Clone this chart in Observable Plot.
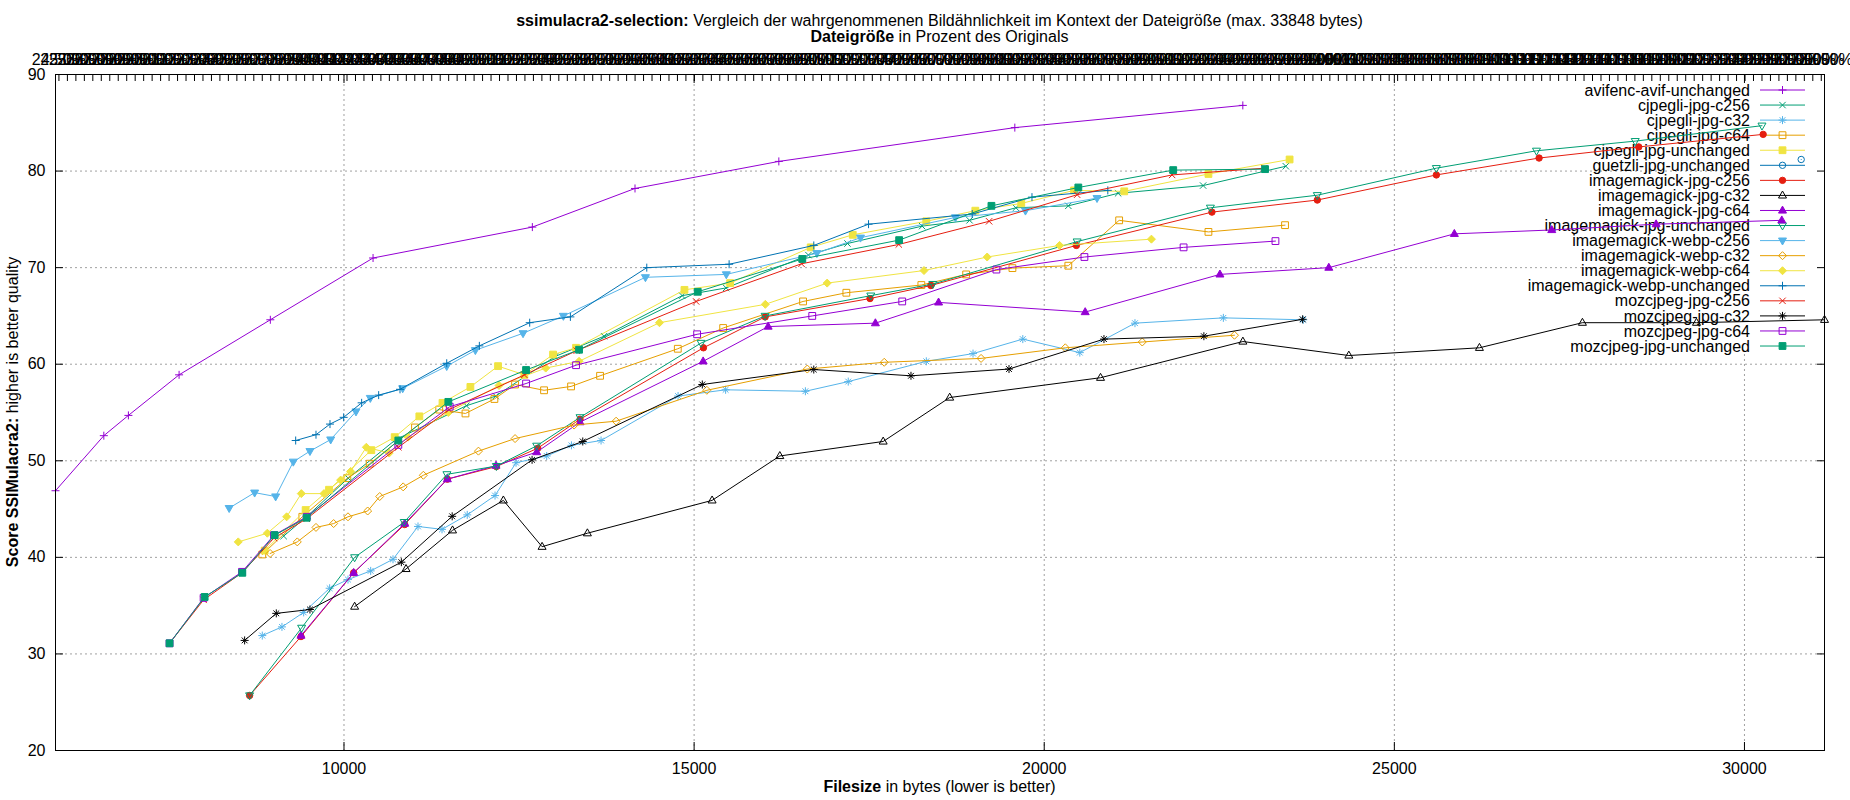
<!DOCTYPE html>
<html>
<head>
<meta charset="utf-8">
<script src="https://cdn.jsdelivr.net/npm/d3@7"></script>
<script src="https://cdn.jsdelivr.net/npm/@observablehq/plot@0.6"></script>
<style>
  body { margin: 0; background: #fff; }
  svg { font-family: "Liberation Sans", Arial, sans-serif; }
</style>
</head>
<body>
<div id="chart"></div>
<script>
// ---------- texts ----------
const titleBold = "ssimulacra2-selection:";
const titleRest = " Vergleich der wahrgenommenen Bildähnlichkeit im Kontext der Dateigröße (max. 33848 bytes)";
const subtitleBold = "Dateigröße";
const subtitleRest = " in Prozent des Originals";
const xLabelBold = "Filesize";
const xLabelRest = " in bytes (lower is better)";
const yLabelBold = "Score SSIMulacra2:";
const yLabelRest = " higher is better quality";

// ---------- series ----------
const seriesNames = [
  "avifenc-avif-unchanged", "cjpegli-jpg-c256", "cjpegli-jpg-c32", "cjpegli-jpg-c64",
  "cjpegli-jpg-unchanged", "guetzli-jpg-unchanged", "imagemagick-jpg-c256", "imagemagick-jpg-c32",
  "imagemagick-jpg-c64", "imagemagick-jpg-unchanged", "imagemagick-webp-c256", "imagemagick-webp-c32",
  "imagemagick-webp-c64", "imagemagick-webp-unchanged", "mozcjpeg-jpg-c256", "mozcjpeg-jpg-c32",
  "mozcjpeg-jpg-c64", "mozcjpeg-jpg-unchanged"
];
const seriesColors = [
  "#9400d3", "#009e73", "#56b4e9", "#e69f00", "#f0e442", "#0072b2", "#e51e10", "#000000",
  "#9400d3", "#009e73", "#56b4e9", "#e69f00", "#f0e442", "#0072b2", "#e51e10", "#000000",
  "#9400d3", "#009e73"
];
const seriesMarkers = [
  "plus", "times", "star", "square", "squareFilled", "circle", "circleFilled", "triangle",
  "triangleFilled", "triangleDown", "triangleDownFilled", "diamond", "diamondFilled", "plus",
  "times", "star", "square", "squareFilled"
];

// ---------- data (bytes, score) ----------
const avifencAvifUnchangedBytes = [5880, 6570, 6921, 7645, 8948, 10415, 12690, 14156, 16210, 19580, 22836];
const avifencAvifUnchangedScore = [46.9, 52.6, 54.7, 58.9, 64.6, 71.0, 74.2, 78.2, 81.0, 84.5, 86.8];

const cjpegliC256Bytes = [9138, 9480, 10060, 10740, 11748, 12167, 13014, 13714, 14829, 15457, 16632, 17190, 18256, 18934, 19595, 20344, 21055, 22269, 23450];
const cjpegliC256Score = [42.2, 44.3, 48.2, 52.2, 55.7, 56.7, 60.8, 62.9, 67.1, 67.9, 71.3, 72.5, 74.3, 74.9, 76.2, 76.4, 77.7, 78.5, 80.5];

const cjpegliC32Bytes = [8833, 9114, 9424, 9795, 10057, 10381, 10700, 11057, 11400, 11760, 12157, 12457, 12895, 13248, 13671, 14771, 15450, 16589, 17201, 18316, 18983, 19694, 20508, 21296, 22558, 23700];
const cjpegliC32Score = [31.9, 32.8, 34.3, 36.8, 37.7, 38.6, 39.8, 43.2, 42.9, 44.4, 46.4, 49.8, 50.5, 51.6, 52.1, 56.7, 57.35, 57.2, 58.2, 60.3, 61.1, 62.6, 61.2, 64.25, 64.8, 64.6];

const cjpegliC64Bytes = [8833, 9405, 10048, 10367, 11014, 11360, 11735, 12148, 12443, 12857, 13243, 13657, 14767, 15415, 16556, 17174, 18245, 18885, 19546, 20344, 21070, 22345, 23439];
const cjpegliC64Score = [40.3, 44.2, 48.2, 49.7, 53.45, 55.3, 54.9, 56.4, 57.9, 57.3, 57.7, 58.8, 61.6, 63.75, 66.5, 67.4, 68.2, 69.3, 69.95, 70.2, 74.9, 73.7, 74.4];

const cjpegliUnchangedBytes = [8867, 9452, 9786, 10390, 10724, 11076, 11407, 11805, 12200, 12576, 12986, 13314, 14862, 15515, 16665, 17266, 18316, 19016, 19672, 20426, 21143, 22345, 23504];
const cjpegliUnchangedScore = [40.7, 44.9, 47.0, 51.1, 52.45, 54.6, 56.0, 57.65, 59.8, 58.9, 61.0, 61.7, 67.7, 68.4, 72.1, 73.4, 74.8, 75.9, 76.65, 78.0, 77.9, 79.7, 81.2];

const guetzliUnchangedBytes = [30810];
const guetzliUnchangedScore = [81.2];

const imJpgC256Bytes = [8652, 9386, 10138, 10867, 11476, 12176, 12767, 13371, 15133, 16014, 17512, 18381, 20459, 22395, 23900, 25600, 27067, 28490, 30267];
const imJpgC256Score = [25.7, 31.8, 38.4, 43.4, 48.1, 49.4, 51.3, 54.3, 61.7, 64.9, 66.8, 68.15, 72.3, 75.75, 77.0, 79.6, 81.35, 82.5, 83.8];

const imJpgC32Bytes = [10152, 10886, 11550, 12276, 12829, 13476, 15257, 16224, 17700, 18650, 20804, 22837, 24350, 26215, 27686, 29315, 31143];
const imJpgC32Score = [34.9, 38.8, 42.8, 45.9, 41.1, 42.5, 45.9, 50.5, 52.0, 56.55, 58.6, 62.35, 60.9, 61.7, 64.3, 64.3, 64.6];

const imJpgC64Bytes = [9386, 10138, 10867, 11476, 12171, 12752, 13371, 15129, 16057, 17589, 18491, 20585, 22509, 24064, 25857, 27248, 28738, 30533];
const imJpgC64Score = [31.9, 38.4, 43.5, 48.1, 49.5, 50.9, 54.0, 60.3, 63.9, 64.25, 66.4, 65.4, 69.3, 70.0, 73.5, 73.9, 74.5, 74.9];

const imJpgUnchangedBytes = [8652, 9395, 10152, 10860, 11470, 12176, 12752, 13371, 15100, 16014, 17523, 18409, 20470, 22373, 23900, 25600, 27030, 28440, 30250];
const imJpgUnchangedScore = [25.7, 32.7, 40.0, 43.65, 48.6, 49.45, 51.55, 54.5, 62.2, 65.0, 67.1, 68.3, 72.7, 76.2, 77.5, 80.3, 82.1, 83.1, 84.7];

const imWebpC256Bytes = [8360, 8724, 9024, 9276, 9514, 9810, 10171, 10376, 10838, 11467, 11876, 12557, 13133, 14305, 15460, 16753, 17376, 18732, 19732, 20754];
const imWebpC256Score = [45.1, 46.7, 46.3, 49.9, 51.0, 52.2, 55.1, 56.5, 57.5, 59.8, 61.45, 63.2, 65.0, 69.0, 69.3, 71.5, 73.1, 75.2, 75.9, 77.2];

const imWebpC32Bytes = [8945, 9333, 9600, 9852, 10057, 10338, 10510, 10845, 11133, 11920, 12443, 13286, 13886, 15182, 16616, 17715, 19098, 20301, 21400, 22717];
const imWebpC32Score = [40.4, 41.6, 43.1, 43.5, 44.2, 44.8, 46.3, 47.3, 48.5, 51.0, 52.3, 53.7, 54.1, 57.3, 59.5, 60.2, 60.6, 61.7, 62.3, 63.0];

const imWebpC64Bytes = [8490, 8905, 9181, 9390, 9714, 9952, 10095, 10319, 10645, 10914, 11490, 12214, 12881, 13357, 14505, 16017, 16900, 18283, 19185, 20219, 21531];
const imWebpC64Score = [41.6, 42.5, 44.2, 46.6, 46.6, 48.0, 48.9, 51.4, 50.8, 52.45, 55.0, 57.8, 59.6, 60.3, 64.3, 66.2, 68.4, 69.7, 71.1, 72.3, 72.95];

const imWebpUnchangedBytes = [9310, 9600, 9800, 9995, 10252, 10495, 10800, 11467, 11933, 12652, 13233, 14324, 15500, 16709, 17491, 18972, 19825, 20908];
const imWebpUnchangedScore = [52.1, 52.7, 53.8, 54.5, 56.0, 56.8, 57.4, 60.1, 61.9, 64.3, 64.9, 70.0, 70.35, 72.3, 74.5, 75.55, 77.3, 78.0];

const mozC256Bytes = [7509, 7995, 8543, 9000, 9467, 10776, 11500, 12576, 13324, 15029, 16534, 17923, 19213, 20470, 21826, 23143];
const mozC256Score = [31.1, 35.6, 38.4, 42.0, 44.0, 51.4, 55.3, 58.9, 61.4, 66.5, 70.4, 72.4, 74.8, 77.55, 79.6, 80.3];

const mozC32Bytes = [8581, 9033, 9514, 10819, 11545, 12686, 13410, 15117, 16709, 18097, 19497, 20853, 22280, 23690];
const mozC32Score = [31.4, 34.2, 34.6, 39.5, 44.25, 50.1, 52.0, 57.9, 59.45, 58.8, 59.5, 62.6, 62.9, 64.65];

const mozC64Bytes = [7509, 7995, 8543, 9000, 9467, 10776, 11510, 12600, 13314, 15043, 16687, 17972, 19317, 20574, 21990, 23302];
const mozC64Score = [31.1, 35.8, 38.5, 42.3, 44.2, 51.65, 55.6, 58.0, 59.9, 63.1, 65.0, 66.5, 69.8, 71.1, 72.1, 72.75];

const mozUnchangedBytes = [7509, 8010, 8548, 9010, 9467, 10776, 11490, 12600, 13357, 15052, 16545, 17928, 19246, 20487, 21842, 23154];
const mozUnchangedScore = [31.1, 35.9, 38.4, 42.3, 44.1, 52.1, 56.1, 59.4, 61.5, 67.5, 70.9, 72.85, 76.4, 78.3, 80.1, 80.2];

const seriesBytes = [
  avifencAvifUnchangedBytes, cjpegliC256Bytes, cjpegliC32Bytes, cjpegliC64Bytes, cjpegliUnchangedBytes,
  guetzliUnchangedBytes, imJpgC256Bytes, imJpgC32Bytes, imJpgC64Bytes, imJpgUnchangedBytes,
  imWebpC256Bytes, imWebpC32Bytes, imWebpC64Bytes, imWebpUnchangedBytes, mozC256Bytes, mozC32Bytes,
  mozC64Bytes, mozUnchangedBytes
];
const seriesScores = [
  avifencAvifUnchangedScore, cjpegliC256Score, cjpegliC32Score, cjpegliC64Score, cjpegliUnchangedScore,
  guetzliUnchangedScore, imJpgC256Score, imJpgC32Score, imJpgC64Score, imJpgUnchangedScore,
  imWebpC256Score, imWebpC32Score, imWebpC64Score, imWebpUnchangedScore, mozC256Score, mozC32Score,
  mozC64Score, mozUnchangedScore
];

// ---------- ticks ----------
const xTicks = [10000, 15000, 20000, 25000, 30000];
const yTicks = [20, 30, 40, 50, 60, 70, 80, 90];
const yGridTicks = [30, 40, 50, 60, 70, 80];
const x2BaseBytes = 24200;            // bytes that correspond to 100 % on the top axis
const x2Percents = d3.range(24.5, 128.75, 0.5);
const x2Labels = x2Percents.map(p => `${p.toFixed(2)}%`);

// ---------- build table ----------
const rows = [];
seriesNames.forEach((name, i) => {
  seriesBytes[i].forEach((b, j) => rows.push({series: name, idx: i, bytes: b, score: seriesScores[i][j]}));
});
const xDomain = d3.extent(rows, d => d.bytes);
const x2TickBytes = x2Percents.map(p => p / 100 * x2BaseBytes);
const x2LabelOf = new Map(x2TickBytes.map((b, i) => [b, x2Labels[i]]));

// ---------- gnuplot-like point symbols ----------
function makeSymbol(kind) {
  return {
    draw(ctx, size) {
      const r = Math.sqrt(size / Math.PI);
      const base = kind.replace("Filled", "");
      if (base === "plus" || base === "star") {
        ctx.moveTo(-r, 0); ctx.lineTo(r, 0); ctx.moveTo(0, -r); ctx.lineTo(0, r);
      }
      if (base === "times" || base === "star") {
        const a = base === "star" ? 0.72 * r : 0.8 * r;
        ctx.moveTo(-a, -a); ctx.lineTo(a, a); ctx.moveTo(-a, a); ctx.lineTo(a, -a);
      }
      if (base === "square") {
        const a = 0.85 * r;
        ctx.moveTo(-a, -a); ctx.lineTo(a, -a); ctx.lineTo(a, a); ctx.lineTo(-a, a); ctx.closePath();
      }
      if (base === "circle") {
        const a = 0.8 * r;
        ctx.moveTo(a, 0); ctx.arc(0, 0, a, 0, 2 * Math.PI); ctx.closePath();
      }
      if (base === "triangle") {
        ctx.moveTo(0, -1.1 * r); ctx.lineTo(r, 0.65 * r); ctx.lineTo(-r, 0.65 * r); ctx.closePath();
      }
      if (base === "triangleDown") {
        ctx.moveTo(0, 1.1 * r); ctx.lineTo(r, -0.65 * r); ctx.lineTo(-r, -0.65 * r); ctx.closePath();
      }
      if (base === "diamond") {
        ctx.moveTo(0, -r); ctx.lineTo(r, 0); ctx.lineTo(0, r); ctx.lineTo(-r, 0); ctx.closePath();
      }
    }
  };
}
const seriesSymbols = seriesMarkers.map(makeSymbol);
const isFilled = seriesMarkers.map(m => m.endsWith("Filled"));
const dotR = 4;

// ---------- fixed layout (pixels) ----------
const W = 1850, H = 800;
const mL = 55, mR = 26, mT = 74, mB = 50;
const fontFamily = '"Liberation Sans", Arial, sans-serif';

function titleMark() {
  const g = d3.create("svg:g").attr("font-size", 16).attr("fill", "black").attr("font-family", fontFamily)
    .style("white-space", "pre");
  const cx = (mL + W - mR) / 2;
  const t1 = g.append("text").attr("x", cx).attr("y", 20).attr("dy", "0.35em").attr("text-anchor", "middle");
  t1.append("tspan").attr("font-weight", "bold").text(titleBold);
  t1.append("tspan").text(titleRest);
  const t2 = g.append("text").attr("x", cx).attr("y", 36.5).attr("dy", "0.35em").attr("text-anchor", "middle");
  t2.append("tspan").attr("font-weight", "bold").text(subtitleBold);
  t2.append("tspan").text(subtitleRest);
  const t3 = g.append("text").attr("x", cx).attr("y", 786).attr("dy", "0.35em").attr("text-anchor", "middle");
  t3.append("tspan").attr("font-weight", "bold").text(xLabelBold);
  t3.append("tspan").text(xLabelRest);
  const cy = (mT + H - mB) / 2;
  const t4 = g.append("text").attr("transform", `translate(12,${cy}) rotate(-90)`).attr("dy", "0.35em").attr("text-anchor", "middle");
  t4.append("tspan").attr("font-weight", "bold").text(yLabelBold);
  t4.append("tspan").text(yLabelRest);
  return g.node();
}

function legendMark() {
  const g = d3.create("svg:g").attr("font-size", 16).attr("font-family", fontFamily);
  const textRight = 1750, lineX1 = 1760, lineX2 = 1805, y0 = 90, dy = 15.06;
  g.append("rect").attr("x", 1737).attr("y", 76).attr("width", W - mR - 1737 - 0.5).attr("height", 277).attr("fill", "white");
  seriesNames.forEach((name, i) => {
    const y = y0 + dy * i;
    const c = seriesColors[i];
    g.append("text").attr("x", textRight).attr("y", y).attr("dy", "0.35em").attr("text-anchor", "end")
      .attr("fill", "#000").text(name);
    g.append("line").attr("x1", lineX1).attr("x2", lineX2).attr("y1", y).attr("y2", y)
      .attr("stroke", c).attr("stroke-width", 1);
    g.append("path").attr("transform", `translate(${(lineX1 + lineX2) / 2},${y})`)
      .attr("d", d3.symbol(seriesSymbols[i], dotR * dotR * Math.PI)())
      .attr("fill", isFilled[i] ? c : "none").attr("stroke", c).attr("stroke-width", 1);
  });
  return g.node();
}

// ---------- series marks ----------
const seriesMarks = [];
seriesNames.forEach((name, i) => {
  const data = rows.filter(d => d.idx === i);
  const c = seriesColors[i];
  seriesMarks.push(Plot.line(data, {x: "bytes", y: "score", stroke: c, strokeWidth: 1}));
  seriesMarks.push(Plot.dot(data, {
    x: "bytes", y: "score", r: dotR, symbol: seriesSymbols[i],
    fill: isFilled[i] ? c : "none", stroke: c, strokeWidth: 1
  }));
});

const gridStyle = {stroke: "#a0a0a0", strokeOpacity: 1, strokeWidth: 1, strokeDasharray: "2,3"};

const chart = Plot.plot({
  width: W, height: H,
  marginLeft: mL, marginRight: mR, marginTop: mT, marginBottom: mB,
  x: {type: "linear", domain: xDomain, axis: null},
  y: {type: "linear", domain: [20, 90], axis: null},
  style: {fontFamily: fontFamily, fontSize: "16px", color: "black", background: "white", overflow: "visible"},
  marks: [
    Plot.gridX({ticks: xTicks, ...gridStyle}),
    Plot.gridY({ticks: yGridTicks, ...gridStyle}),
    legendMark,
    ...seriesMarks,
    Plot.frame({stroke: "black", strokeWidth: 1}),
    // inward ticks
    Plot.axisX({anchor: "bottom", ticks: xTicks, tickSize: 8, dy: -8, tickFormat: () => "", label: null, stroke: "black"}),
    Plot.axisX({anchor: "top", ticks: xTicks, tickSize: 8, dy: 8, tickFormat: () => "", label: null, stroke: "black"}),
    Plot.axisX({anchor: "top", ticks: x2TickBytes, tickSize: 6, dy: 6, tickFormat: () => "", label: null, stroke: "black"}),
    Plot.axisY({anchor: "left", ticks: yTicks, tickSize: 8, dx: 8, tickFormat: () => "", label: null, stroke: "black"}),
    Plot.axisY({anchor: "right", ticks: yTicks, tickSize: 8, dx: -8, tickFormat: () => "", label: null, stroke: "black"}),
    // tick labels
    Plot.axisX({anchor: "bottom", ticks: xTicks, tickSize: 0, tickPadding: 12, tickFormat: d => String(d), label: null, fontSize: 16}),
    Plot.axisY({anchor: "left", ticks: yTicks, tickSize: 0, tickPadding: 10, tickFormat: d => String(d), label: null, fontSize: 16}),
    Plot.axisX({anchor: "top", ticks: x2TickBytes, tickSize: 0, tickPadding: 10, tickFormat: d => x2LabelOf.get(d), label: null, fontSize: 16}),
    titleMark
  ]
});
document.getElementById("chart").appendChild(chart);
</script>
</body>
</html>
